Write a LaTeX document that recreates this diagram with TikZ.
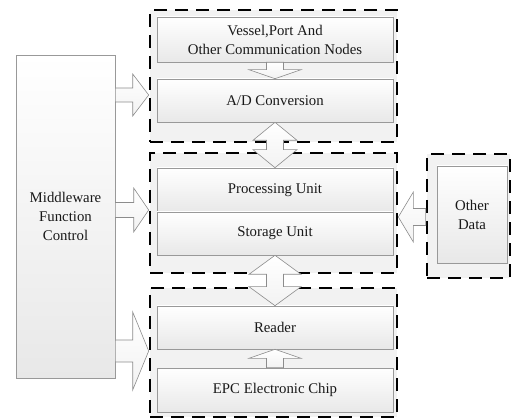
\documentclass[tikz,border=0pt]{standalone}
\usepackage{fontspec}
\setmainfont{Liberation Serif}
\usetikzlibrary{calc,shadows}

% horizontal block arrows: tail, tip, shaft half-width, head half-width, head length
\newcommand\rblock[5]{%
  \draw[blockarrow] ($(#1)+(0,-#3)$) -- ($(#2)+(-#5,-#3)$) -- ($(#2)+(-#5,-#4)$) -- (#2)
    -- ($(#2)+(-#5,#4)$) -- ($(#2)+(-#5,#3)$) -- ($(#1)+(0,#3)$) -- cycle;}
\newcommand\lblock[5]{%
  \draw[blockarrow] ($(#1)+(0,-#3)$) -- ($(#2)+(#5,-#3)$) -- ($(#2)+(#5,-#4)$) -- (#2)
    -- ($(#2)+(#5,#4)$) -- ($(#2)+(#5,#3)$) -- ($(#1)+(0,#3)$) -- cycle;}
% vertical block arrows (y grows downwards)
\newcommand\dblock[5]{%
  \draw[blockarrow] ($(#1)+(-#3,0)$) -- ($(#2)+(-#3,-#5)$) -- ($(#2)+(-#4,-#5)$) -- (#2)
    -- ($(#2)+(#4,-#5)$) -- ($(#2)+(#3,-#5)$) -- ($(#1)+(#3,0)$) -- cycle;}
\newcommand\ublock[5]{%
  \draw[blockarrow] ($(#1)+(-#3,0)$) -- ($(#2)+(-#3,#5)$) -- ($(#2)+(-#4,#5)$) -- (#2)
    -- ($(#2)+(#4,#5)$) -- ($(#2)+(#3,#5)$) -- ($(#1)+(#3,0)$) -- cycle;}
% two-headed vertical block arrow: upper tip, lower tip, shaft, head, head length
\newcommand\twoblock[5]{%
  \draw[blockarrow] (#1) -- ($(#1)+(#4,#5)$) -- ($(#1)+(#3,#5)$) -- ($(#2)+(#3,-#5)$)
    -- ($(#2)+(#4,-#5)$) -- (#2) -- ($(#2)+(-#4,-#5)$) -- ($(#2)+(-#3,-#5)$)
    -- ($(#1)+(-#3,#5)$) -- ($(#1)+(-#4,#5)$) -- cycle;}

\begin{document}
\begin{tikzpicture}[x=1pt,y=-1pt,
  font=\fontsize{14.8}{19}\selectfont,
  group/.style={draw=black, line width=2.6pt, dash pattern=on 13pt off 8pt,
    fill=black!5, inner sep=0pt},
  unitbox/.style={draw=black!40, line width=0.6pt, top color=white, bottom color=black!9,
    drop shadow={shadow xshift=1.2pt,shadow yshift=-1.2pt,opacity=0.25},
    inner sep=0pt, align=center, text=black!90},
  blockarrow/.style={draw=black!45, line width=0.6pt, top color=white, bottom color=black!5}]
\useasboundingbox (0,0) rectangle (511,419);

% dashed groups
\node[group, minimum width=247pt, minimum height=132pt] (g1) at (273.5,76) {};
\node[group, minimum width=247pt, minimum height=120pt] (g2) at (273.5,213) {};
\node[group, minimum width=247pt, minimum height=129pt] (g3) at (273.5,352.5) {};
\node[group, minimum width=83pt, minimum height=124pt] (god) at (468.5,216) {};

% units
\node[unitbox, minimum width=99pt, minimum height=323pt] (mw) at (65.5,216.5)
  {Middleware\\Function\\Control};
\node[unitbox, minimum width=236pt, minimum height=45pt] (vessel) at (275,39.5)
  {Vessel,Port And\\Other Communication Nodes};
\node[unitbox, minimum width=236pt, minimum height=43pt] (ad) at (275,100.5) {A/D Conversion};
\node[unitbox, minimum width=236pt, minimum height=44pt] (proc) at (275,190) {Processing Unit};
\node[unitbox, minimum width=236pt, minimum height=43pt] (stor) at (275,233.5) {Storage Unit};
\node[unitbox, minimum width=236pt, minimum height=43pt] (reader) at (275,327.5) {Reader};
\node[unitbox, minimum width=236pt, minimum height=44pt] (epc) at (275,390) {EPC Electronic Chip};
\node[unitbox, minimum width=70pt, minimum height=97pt] (od) at (472,214.5) {Other\\Data};

% arrow rows
\coordinate (row1) at (0,95);
\coordinate (row2) at (0,210);
\coordinate (row3) at (0,351);
\coordinate (row4) at (0,217);
\coordinate (m1) at (mw.east |- row1); \coordinate (p1) at (g1.west |- row1);
\coordinate (m2) at (mw.east |- row2); \coordinate (p2) at (g2.west |- row2);
\coordinate (m3) at (mw.east |- row3); \coordinate (p3) at (g3.west |- row3);
\coordinate (o1) at (god.west |- row4); \coordinate (q1) at (g2.east |- row4);

% block arrows
\dblock{vessel.south}{ad.north}{8.5}{26}{9}
\twoblock{ad.south}{proc.north}{8.5}{22}{18}
\twoblock{stor.south}{reader.north}{8.5}{26}{19}
\ublock{epc.north}{reader.south}{8.5}{26}{9}
\rblock{m1}{p1}{7}{21}{16}
\rblock{m2}{p2}{7.5}{22}{15}
\rblock{m3}{p3}{11}{39}{16}
\lblock{o1}{q1}{8.5}{25}{15}
\end{tikzpicture}
\end{document}
